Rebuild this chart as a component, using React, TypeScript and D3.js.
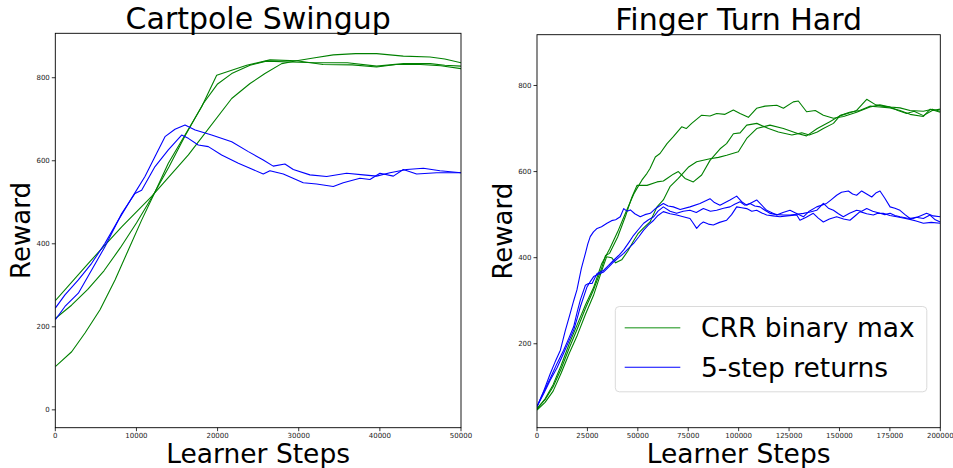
import React from 'react'
import * as d3 from 'd3'

type Pt = [number, number]

// Cartpole Swingup — CRR binary max runs
const cartpoleCrr1: Pt[] = [[0, 104], [2017, 140], [3660, 185], [5510, 241], [7360, 313], [9000, 385], [10640, 457], [12290, 525], [13930, 594], [15985, 662], [18040, 730], [19890, 806], [23590, 830], [26460, 843], [29740, 841], [33000, 832], [36600, 831], [39600, 826], [42000, 832], [45000, 832], [47500, 829], [50000, 822]]
const cartpoleCrr2: Pt[] = [[0, 220], [2000, 252], [4000, 290], [6000, 335], [8000, 390], [10000, 450], [12000, 515], [14000, 585], [16000, 660], [18240, 738], [20000, 785], [21740, 810], [24000, 830], [26000, 840], [29000, 838], [32000, 836], [36000, 836], [39600, 828], [42900, 834], [46200, 834], [48000, 830], [50000, 828]]
const cartpoleCrr3: Pt[] = [[0, 263], [4070, 353], [8180, 441], [11880, 514], [16400, 614], [21740, 750], [24000, 786], [25840, 810], [27900, 834], [29740, 841], [32000, 848], [34260, 855], [37000, 858], [39600, 858], [42890, 852], [46180, 850], [48000, 845], [50000, 836]]
// Cartpole Swingup — 5-step returns runs
const cartpoleStep1: Pt[] = [[0, 245], [1190, 277], [2840, 313], [4480, 353], [6120, 401], [7770, 457], [9410, 510], [11050, 562], [12290, 610], [13520, 658], [14750, 676], [15985, 686], [17240, 674], [19270, 662], [21740, 646], [23790, 622], [25630, 602], [26860, 587], [28300, 592], [29330, 579], [31380, 566], [33440, 562], [35900, 570], [37960, 566], [39600, 563], [41250, 571], [43300, 579], [45360, 582], [47410, 576], [50000, 571]]
const cartpoleStep2: Pt[] = [[0, 217], [1190, 249], [2840, 281], [4480, 337], [6120, 393], [8180, 473], [9820, 521], [10640, 529], [12290, 586], [13930, 626], [15570, 662], [16390, 654], [17620, 638], [18860, 634], [20500, 614], [22560, 594], [23990, 582], [25630, 568], [26450, 576], [28100, 568], [30560, 547], [32200, 544], [34260, 538], [35490, 547], [37550, 558], [38780, 555], [40010, 570], [41660, 563], [42890, 579], [44530, 568], [47000, 571], [50000, 571]]

// Finger Turn Hard — CRR binary max runs
const fingerCrr1: Pt[] = [[0, 48], [4000, 72], [8000, 105], [12000, 150], [16000, 200], [20000, 245], [24000, 290], [28000, 330], [32000, 385], [36000, 420], [40000, 460], [44000, 505], [48000, 548], [49590, 561], [52000, 580], [54550, 596], [56040, 607], [58680, 634], [61000, 642], [64470, 665], [67610, 681], [71740, 704], [74000, 700], [76700, 712], [81660, 731], [85790, 729], [89100, 735], [93230, 733], [97360, 743], [100700, 735], [104800, 726], [108900, 747], [113100, 752], [118900, 754], [122200, 747], [127100, 762], [129600, 764], [133700, 739], [138000, 742], [142000, 731], [147000, 724], [152000, 728], [158500, 738], [165100, 750], [170000, 755], [175100, 750], [180000, 748], [185000, 742], [191600, 740], [196000, 745], [200000, 740]]
const fingerCrr2: Pt[] = [[0, 50], [4000, 70], [8000, 100], [12000, 142], [16000, 190], [20000, 235], [24000, 282], [28000, 325], [32000, 375], [34000, 405], [36000, 410], [40000, 448], [44000, 498], [47000, 540], [49590, 568], [54550, 568], [59510, 576], [62650, 578], [64470, 584], [67610, 594], [70090, 600], [73400, 584], [77530, 576], [81660, 592], [85800, 626], [90800, 653], [94000, 665], [97400, 688], [100700, 690], [104000, 708], [109000, 712], [114800, 700], [119700, 692], [126400, 685], [131300, 690], [135000, 685], [139000, 692], [142000, 700], [147000, 712], [150300, 730], [154000, 735], [158500, 742], [163500, 768], [168000, 755], [171000, 752], [175100, 750], [179000, 742], [183300, 735], [187000, 740], [191600, 730], [196000, 742], [200000, 745]]
const fingerCrr3: Pt[] = [[0, 46], [4000, 64], [8000, 90], [12000, 132], [16000, 178], [20000, 220], [24000, 268], [28000, 312], [32000, 368], [34500, 402], [37000, 400], [39000, 388], [42000, 395], [45000, 415], [48000, 440], [50000, 455], [53000, 470], [56040, 483], [59510, 518], [62650, 534], [65950, 565], [70090, 584], [75000, 610], [79180, 623], [85790, 630], [90000, 633], [94060, 638], [99840, 646], [103980, 677], [108930, 700], [115550, 708], [122200, 700], [129600, 688], [133700, 683], [139000, 700], [145000, 715], [150300, 730], [155000, 738], [160000, 742], [165100, 752], [170000, 750], [175100, 748], [180000, 742], [185000, 733], [191600, 728], [195000, 745], [200000, 738]]
// Finger Turn Hard — 5-step returns runs
const fingerStep1: Pt[] = [[0, 54], [3300, 90], [6600, 131], [9000, 158], [11600, 185], [14000, 230], [16500, 271], [18200, 300], [19800, 325], [22000, 375], [24000, 410], [25200, 432], [26400, 449], [28000, 460], [29800, 468], [32000, 472], [34700, 480], [37000, 486], [39000, 488], [41300, 495], [43000, 514], [44600, 508], [46300, 511], [48500, 502], [51200, 495], [53500, 500], [56200, 503], [59000, 515], [62650, 526], [65000, 520], [67610, 518], [71000, 512], [75870, 518], [80830, 526], [85790, 537], [88000, 528], [90750, 522], [95710, 534], [99020, 543], [101500, 530], [103980, 522], [108930, 534], [113900, 510], [118850, 499], [122000, 505], [125460, 510], [129000, 502], [132100, 495], [135000, 508], [138700, 518], [143600, 526], [146000, 535], [148600, 545], [151000, 552], [154400, 555], [156500, 548], [158500, 545], [161000, 555], [163500, 548], [166000, 541], [168000, 550], [170100, 555], [172500, 538], [175100, 518], [177500, 515], [180000, 510], [182500, 500], [185000, 491], [188000, 494], [191600, 491], [194900, 499], [197500, 488], [200000, 483]]
const fingerStep2: Pt[] = [[0, 54], [3300, 88], [6600, 120], [10000, 155], [13200, 185], [15700, 212], [18200, 240], [20000, 275], [21500, 302], [24000, 336], [25500, 340], [27300, 340], [29800, 363], [33100, 371], [35500, 382], [38000, 394], [40500, 405], [43000, 418], [45500, 435], [47900, 452], [50400, 466], [52900, 480], [55300, 488], [57900, 495], [60000, 508], [62650, 518], [66000, 508], [69260, 503], [72500, 508], [75870, 510], [79000, 505], [82490, 514], [86000, 508], [89100, 510], [92500, 515], [95710, 518], [98000, 524], [100700, 530], [103000, 522], [105600, 526], [108000, 520], [110600, 518], [113000, 510], [115500, 503], [119000, 500], [122200, 499], [125460, 499], [128800, 501], [132100, 503], [135500, 506], [138700, 510], [142000, 526], [144500, 515], [147000, 510], [149500, 502], [151900, 495], [155000, 503], [158500, 510], [161000, 508], [163500, 514], [166500, 508], [170100, 503], [172500, 500], [175100, 503], [177500, 498], [180000, 495], [183300, 492], [186600, 491], [190000, 497], [193200, 503], [196500, 497], [200000, 495]]
const fingerStep3: Pt[] = [[0, 54], [3300, 84], [6600, 116], [10000, 145], [13200, 178], [15700, 205], [18200, 232], [20000, 260], [21500, 286], [24800, 332], [26500, 345], [28100, 356], [30600, 362], [33100, 367], [35500, 378], [38000, 390], [40500, 400], [43000, 410], [45500, 422], [47900, 433], [50400, 448], [52900, 464], [55300, 476], [57900, 487], [60000, 498], [62650, 507], [66000, 502], [69260, 499], [72500, 495], [75870, 491], [77500, 480], [79180, 468], [81000, 478], [82490, 483], [85000, 478], [87440, 476], [90500, 482], [94060, 487], [96500, 500], [99020, 518], [101500, 516], [103980, 514], [106500, 508], [108930, 510], [111500, 504], [113900, 499], [117000, 497], [120500, 495], [124000, 497], [128800, 499], [130400, 487], [133500, 494], [137000, 503], [139500, 492], [142000, 483], [145000, 490], [148600, 495], [152000, 490], [155200, 487], [158000, 498], [160200, 507], [163500, 502], [166800, 499], [169000, 503], [171700, 503], [175000, 498], [178400, 495], [181500, 492], [185000, 489], [188000, 485], [191600, 480], [195500, 482], [200000, 480]]

const cartpoleXTicks = [0, 10000, 20000, 30000, 40000, 50000]
const cartpoleYTicks = [0, 200, 400, 600, 800]
const fingerXTicks = [0, 25000, 50000, 75000, 100000, 125000, 150000, 175000, 200000]
const fingerYTicks = [200, 400, 600, 800]

const legendLabels = ['CRR binary max', '5-step returns']

const FONT = 'DejaVu Sans, Verdana, sans-serif'
const CRR_COLOR = '#008000'
const STEP_COLOR = '#0000ff'

interface Box { left: number; right: number; top: number; bottom: number }

interface PanelProps {
  id: string
  title: string
  box: Box
  xDomain: [number, number]
  yDomain: [number, number]
  xTicks: number[]
  yTicks: number[]
  crr: Pt[][]
  step: Pt[][]
  legend?: boolean
}

const Panel: React.FC<PanelProps> = ({ id, title, box, xDomain, yDomain, xTicks, yTicks, crr, step, legend }) => {
  const x = d3.scaleLinear().domain(xDomain).range([box.left, box.right])
  const y = d3.scaleLinear().domain(yDomain).range([box.bottom, box.top])
  const line = d3.line<Pt>().x((d) => x(d[0])).y((d) => y(d[1]))
  const fmt = d3.format('d')
  const cx = (box.left + box.right) / 2
  const cy = (box.top + box.bottom) / 2

  return (
    <g>
      <defs>
        <clipPath id={`clip-${id}`}>
          <rect x={box.left} y={box.top} width={box.right - box.left} height={box.bottom - box.top} />
        </clipPath>
      </defs>
      <g clipPath={`url(#clip-${id})`} fill="none" strokeWidth={1.1} strokeLinejoin="round">
        {crr.map((run, i) => (
          <path key={`c${i}`} d={line(run) ?? ''} stroke={CRR_COLOR} />
        ))}
        {step.map((run, i) => (
          <path key={`s${i}`} d={line(run) ?? ''} stroke={STEP_COLOR} />
        ))}
      </g>
      <rect x={box.left} y={box.top} width={box.right - box.left} height={box.bottom - box.top} fill="none" stroke="#000" strokeWidth={0.9} />
      {xTicks.map((t) => (
        <g key={`x${t}`}>
          <line x1={x(t)} x2={x(t)} y1={box.bottom} y2={box.bottom + 3.5} stroke="#000" strokeWidth={0.8} />
          <text x={x(t)} y={box.bottom + 10} textAnchor="middle" fontSize={7} fill="#222" fontFamily={FONT}>
            {fmt(t)}
          </text>
        </g>
      ))}
      {yTicks.map((t) => (
        <g key={`y${t}`}>
          <line x1={box.left - 3.5} x2={box.left} y1={y(t)} y2={y(t)} stroke="#000" strokeWidth={0.8} />
          <text x={box.left - 5.5} y={y(t)} dy="0.35em" textAnchor="end" fontSize={7} fill="#222" fontFamily={FONT}>
            {fmt(t)}
          </text>
        </g>
      ))}
      <text x={cx} y={box.top - 4.3} textAnchor="middle" fontSize={30} fontFamily={FONT} fill="#000">
        {title}
      </text>
      <text x={cx} y={box.bottom + 35.5} textAnchor="middle" fontSize={26.5} fontFamily={FONT} fill="#000">
        Learner Steps
      </text>
      <text transform={`translate(${box.left - 25},${cy}) rotate(-90)`} textAnchor="middle" fontSize={26} fontFamily={FONT} fill="#000">
        Reward
      </text>
      {legend && (
        <g>
          <rect x={615.3} y={306.5} width={311.5} height={85.3} rx={4} fill="#fff" fillOpacity={0.8} stroke="#d6d6d6" strokeWidth={0.9} />
          {legendLabels.map((label, i) => (
            <g key={label}>
              <line x1={624.7} x2={680.3} y1={327.7 + i * 39.6} y2={327.7 + i * 39.6} stroke={i === 0 ? '#5fb45f' : STEP_COLOR} strokeWidth={i === 0 ? 1.6 : 1.1} />
              <text x={701} y={327.7 + i * 39.6} dy="0.36em" fontSize={26.5} fontFamily={FONT} fill="#000">
                {label}
              </text>
            </g>
          ))}
        </g>
      )}
    </g>
  )
}

export default function App() {
  return (
    <div style={{ position: 'fixed', left: 0, top: 0 }}>
      <svg width={953} height={468} style={{ display: 'block', background: '#fff' }}>
        <Panel
          id="cartpole"
          title="Cartpole Swingup"
          box={{ left: 55.3, right: 461, top: 33.3, bottom: 427.7 }}
          xDomain={[0, 50000]}
          yDomain={[-43, 907]}
          xTicks={cartpoleXTicks}
          yTicks={cartpoleYTicks}
          crr={[cartpoleCrr1, cartpoleCrr2, cartpoleCrr3]}
          step={[cartpoleStep1, cartpoleStep2]}
        />
        <Panel
          id="finger"
          title="Finger Turn Hard"
          box={{ left: 537, right: 940.3, top: 34.7, bottom: 427.7 }}
          xDomain={[0, 200000]}
          yDomain={[5, 918]}
          xTicks={fingerXTicks}
          yTicks={fingerYTicks}
          crr={[fingerCrr1, fingerCrr2, fingerCrr3]}
          step={[fingerStep1, fingerStep2, fingerStep3]}
          legend
        />
      </svg>
    </div>
  )
}
